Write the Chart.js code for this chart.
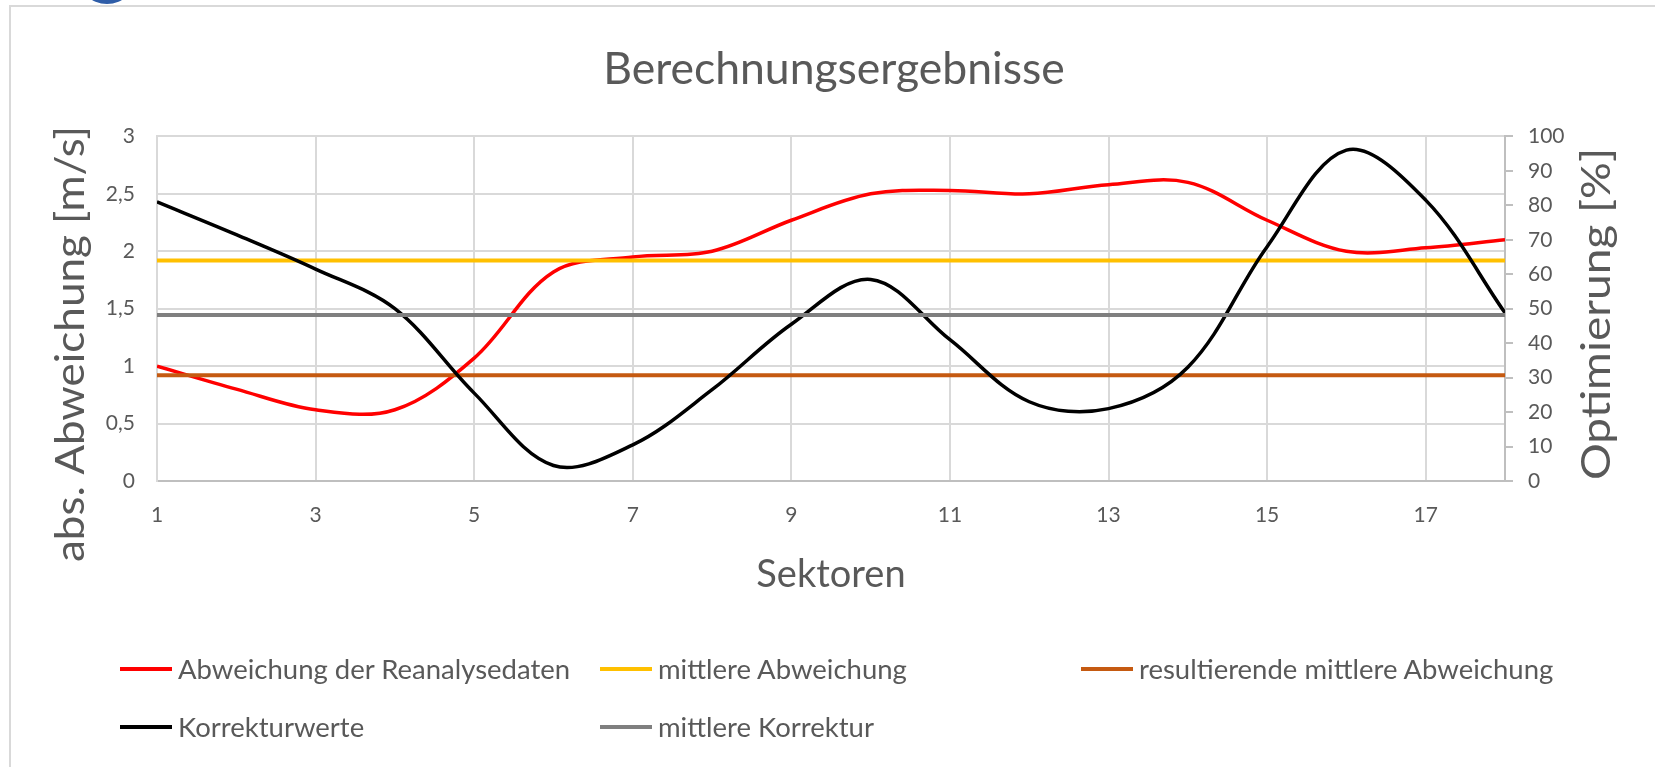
<!DOCTYPE html>
<html lang="de">
<head>
<meta charset="utf-8">
<title>Berechnungsergebnisse</title>
<script src="https://cdn.jsdelivr.net/npm/chart.js@4.4.1/dist/chart.umd.min.js"></script>
<style>
    html, body { margin: 0; padding: 0; background: #fff; overflow: hidden; }
    body { width: 1655px; height: 767px; position: relative; font-family: Lato, sans-serif; }
    .frame { position: absolute; left: 9px; top: 5px; width: 1700px; height: 800px; border: 2px solid #d9d9d9; }
    .dot { position: absolute; left: 77px; top: -56px; width: 60px; height: 60px; border-radius: 50%; background: #2e5da8; }
    #chart { position: absolute; left: 0; top: 0; }
    #legend { position: absolute; left: 120px; top: 654px; display: grid; grid-template-columns: 480px 481px auto; row-gap: 28px; }
    .item { display: flex; align-items: center; height: 30px; line-height: 30px; font-size: 27.5px; color: #595959; white-space: nowrap; }
    .swatch { width: 52px; height: 4px; margin-right: 6px; }
</style>
</head>
<body>
<div class="frame"></div>
<div class="dot"></div>
<canvas id="chart" width="1655" height="767"></canvas>
<div id="legend"></div>

<script>
const sectors = [1, 2, 3, 4, 5, 6, 7, 8, 9, 10, 11, 12, 13, 14, 15, 16, 17, 18];
const deviation = [1.0, 0.8, 0.62, 0.62, 1.07, 1.82, 1.95, 2.0, 2.27, 2.5, 2.53, 2.5, 2.58, 2.6, 2.27, 2.0, 2.03, 2.1];
const corrections = [81, 71.5, 61.5, 50, 25.5, 4.5, 10.5, 26.5, 45.5, 58.5, 41, 23, 21, 33, 68, 96, 81.5, 48.8];
const meanDeviation = 1.92;
const resultingMeanDeviation = 0.92;
const meanCorrection = 48.2;

const xTicks = [1, 3, 5, 7, 9, 11, 13, 15, 17];
const yTickLabels = ['0', '0,5', '1', '1,5', '2', '2,5', '3'];
const y2TickLabels = ['0', '10', '20', '30', '40', '50', '60', '70', '80', '90', '100'];

const leftTitle = 'abs. Abweichung [m/s]';
const rightTitle = 'Optimierung [%]';

Chart.defaults.font.family = 'Lato';
Chart.defaults.color = '#595959';

const toPoints = values => sectors.map((s, i) => ({ x: s, y: values[i] }));
const level = value => sectors.map(s => ({ x: s, y: value }));

// rotated axis titles, both read bottom to top like the original
const axisTitles = {
    id: 'axisTitles',
    afterDraw(chart) {
        const ctx = chart.ctx;
        const draw = (text, x, y, stretch) => {
            ctx.save();
            ctx.translate(x, y);
            ctx.rotate(-Math.PI / 2);
            ctx.scale(stretch, 1);
            ctx.font = '40px Lato';
            ctx.fillStyle = '#595959';
            ctx.textAlign = 'center';
            ctx.textBaseline = 'middle';
            ctx.fillText(text, 0, 0);
            ctx.restore();
        };
        draw(leftTitle, 71, 344, 1.1);
        draw(rightTitle, 1597, 314, 1.15);
    }
};

const line = { pointRadius: 0, fill: false, borderWidth: 4 };

const chart = new Chart(document.getElementById('chart'), {
    type: 'line',
    data: {
        datasets: [
            { ...line, label: 'Abweichung der Reanalysedaten', data: toPoints(deviation), borderColor: '#ff0000', borderWidth: 3.5, tension: 0.35, yAxisID: 'y', order: 5 },
            { ...line, label: 'mittlere Abweichung', data: level(meanDeviation), borderColor: '#ffc000', yAxisID: 'y', order: 4 },
            { ...line, label: 'resultierende mittlere Abweichung', data: level(resultingMeanDeviation), borderColor: '#c55a11', yAxisID: 'y', order: 3 },
            { ...line, label: 'Korrekturwerte', data: toPoints(corrections), borderColor: '#000000', borderWidth: 3.5, tension: 0.35, yAxisID: 'y2', order: 2 },
            { ...line, label: 'mittlere Korrektur', data: level(meanCorrection), borderColor: '#7f7f7f', yAxisID: 'y2', order: 1 }
        ]
    },
    options: {
        responsive: false,
        animation: false,
        layout: { padding: { left: 13, right: 0, top: 0, bottom: 167 } },
        plugins: {
            legend: { display: false },
            tooltip: { enabled: false },
            title: {
                display: true,
                text: 'Berechnungsergebnisse',
                color: '#595959',
                font: { size: 44.5, weight: 'normal' },
                padding: { top: 43, bottom: 40 }
            }
        },
        scales: {
            x: {
                type: 'linear',
                min: 1,
                max: 18,
                afterBuildTicks: scale => { scale.ticks = xTicks.map(v => ({ value: v })); },
                afterFit: scale => { scale.height = 119; },
                grid: { color: '#d9d9d9', lineWidth: 2, drawTicks: false },
                border: { color: '#bfbfbf', width: 2 },
                ticks: { padding: 22, autoSkip: false, maxRotation: 0, font: { size: 21 } },
                title: { display: true, text: 'Sektoren', font: { size: 38 }, padding: { top: 0, bottom: 2 } }
            },
            y: {
                position: 'left',
                min: 0,
                max: 3,
                afterFit: scale => { scale.width = 144; },
                grid: { color: '#d9d9d9', lineWidth: 2, drawTicks: false },
                border: { color: '#d9d9d9', width: 2 },
                ticks: { stepSize: 0.5, padding: 22, font: { size: 21 }, callback: (v, i) => yTickLabels[i] }
            },
            y2: {
                position: 'right',
                min: 0,
                max: 100,
                afterFit: scale => { scale.width = 150; },
                grid: { drawOnChartArea: false, tickLength: 8, tickColor: '#bfbfbf', lineWidth: 2 },
                border: { color: '#bfbfbf', width: 2 },
                ticks: { stepSize: 10, padding: 15, font: { size: 21 }, callback: (v, i) => y2TickLabels[i] }
            }
        }
    },
    plugins: [axisTitles]
});

const legend = document.getElementById('legend');
chart.data.datasets.forEach(ds => {
    const item = document.createElement('div');
    item.className = 'item';
    const swatch = document.createElement('span');
    swatch.className = 'swatch';
    swatch.style.background = ds.borderColor;
    item.appendChild(swatch);
    item.appendChild(document.createTextNode(ds.label));
    legend.appendChild(item);
});
</script>
</body>
</html>
